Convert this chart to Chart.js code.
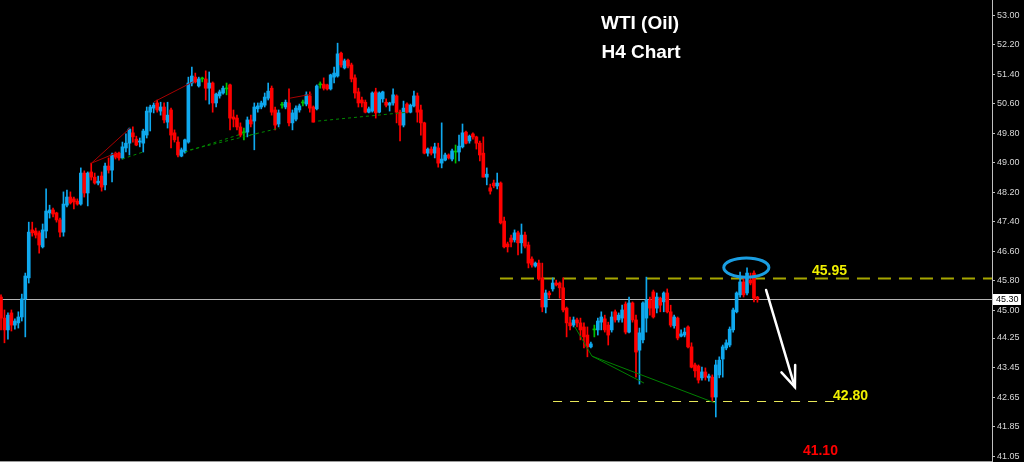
<!DOCTYPE html>
<html><head><meta charset="utf-8">
<script src="https://cdn.jsdelivr.net/npm/chart.js@4.4.1/dist/chart.umd.min.js"></script>
<style>html,body{margin:0;padding:0;background:#000;overflow:hidden}#wrap{width:1024px;height:462px}</style>
</head><body><div id="wrap"><canvas id="c" width="1024" height="462"></canvas></div>
<script>
// ---- data (WTI H4 candles) ----
const open = [45.36,44.79,44.47,44.93,44.60,44.66,44.82,45.31,45.88,47.18,47.15,47.10,46.72,47.15,47.64,47.72,47.64,47.45,47.12,47.85,48.07,48.02,47.96,47.88,48.72,48.18,48.75,48.61,48.45,48.64,48.40,48.91,48.80,49.26,49.26,49.13,49.40,49.53,49.81,49.64,49.56,49.53,49.75,50.37,50.48,50.62,50.40,50.51,50.10,50.43,49.81,49.56,49.18,49.29,49.56,51.16,51.32,51.08,51.27,51.27,51.02,51.16,50.62,50.81,50.89,51.00,51.11,50.24,50.21,49.97,49.81,49.83,50.16,50.13,50.46,50.51,50.56,50.75,51.02,50.43,50.05,50.56,50.51,50.62,50.08,50.18,50.43,50.62,50.59,50.81,50.51,50.46,51.11,51.13,51.11,51.00,51.32,51.35,51.97,51.57,51.78,51.65,51.30,50.92,50.70,50.64,50.37,50.40,50.92,50.37,50.73,50.64,50.56,50.62,50.81,50.37,50.02,50.59,50.37,50.54,50.81,50.43,50.08,49.26,49.37,49.26,49.40,48.99,49.07,49.21,49.10,49.29,49.29,49.43,49.83,49.59,49.78,49.70,49.53,49.26,48.61,48.32,48.45,48.37,48.45,47.42,46.80,46.96,46.91,47.10,46.83,47.04,46.77,46.39,46.20,46.28,45.88,45.09,45.47,45.58,45.74,45.74,45.61,45.06,44.66,44.60,44.74,44.66,44.55,44.33,44.01,44.47,44.47,44.68,44.77,44.60,44.47,44.96,44.74,44.79,45.17,44.41,45.20,44.74,43.92,44.20,44.79,45.28,45.50,45.06,45.33,45.23,45.47,44.96,44.58,44.79,44.30,44.33,44.55,44.01,43.52,43.49,43.17,43.33,43.17,43.19,42.65,43.25,43.68,43.98,44.06,44.47,44.96,45.42,45.77,45.47,45.82,46.01,45.36];
const high = [45.42,45.01,44.93,45.01,44.77,44.96,45.44,46.01,47.39,47.39,47.23,47.15,47.34,48.29,47.85,47.77,47.66,47.50,48.21,48.26,48.21,48.07,48.02,48.86,48.78,48.75,48.99,48.72,48.64,48.75,48.99,49.13,49.26,49.29,49.29,49.56,49.78,49.94,49.97,49.72,49.67,49.91,50.51,50.56,50.62,50.70,50.64,50.62,50.64,50.48,49.89,49.70,49.40,49.64,51.32,51.59,51.43,51.32,51.32,51.49,51.46,51.19,50.89,50.97,51.08,51.16,51.13,50.43,50.29,50.08,49.94,50.24,50.29,50.62,50.62,50.67,50.89,51.16,51.08,50.51,50.43,50.64,50.70,51.00,50.43,50.54,50.59,50.70,50.92,50.92,50.54,51.11,51.19,51.30,51.13,51.40,51.59,52.24,52.00,51.81,51.81,51.70,51.38,51.02,50.78,50.70,50.51,50.92,51.02,50.92,50.94,50.73,50.64,51.00,50.84,50.43,50.67,50.62,50.59,50.94,50.89,50.56,50.10,49.40,49.43,49.53,49.53,50.08,49.26,49.24,49.37,49.48,49.75,50.05,49.86,49.75,49.81,49.72,49.59,49.70,48.86,48.42,48.53,48.72,48.48,47.53,46.85,47.04,47.18,47.15,47.34,47.12,46.85,46.45,46.31,46.36,46.28,45.55,45.52,45.88,45.82,45.77,45.88,45.09,44.82,44.82,44.79,44.79,44.66,44.55,44.14,44.60,44.79,44.96,44.87,44.68,44.96,45.01,44.93,45.14,45.23,45.36,45.23,44.87,44.52,45.23,45.90,45.36,45.55,45.47,45.36,45.50,45.58,45.14,44.87,44.82,44.47,44.52,44.58,44.12,43.57,43.52,43.46,43.44,43.27,43.25,43.65,43.74,44.06,44.20,44.55,45.06,45.50,46.04,45.88,46.15,46.01,46.07,45.38];
const low = [44.47,44.12,44.22,44.44,44.49,44.52,44.71,44.28,45.74,47.01,46.96,46.55,46.69,46.96,47.50,47.53,47.39,46.99,47.01,47.80,47.88,47.75,47.85,47.85,48.07,47.83,48.53,48.42,48.40,48.23,48.26,48.72,48.48,49.10,49.07,49.10,49.29,49.21,49.56,49.46,49.43,49.29,49.67,49.86,50.35,50.37,50.29,50.08,49.94,49.40,49.56,49.16,49.16,49.26,49.53,51.08,51.16,51.05,51.19,50.70,50.59,50.37,50.51,50.75,50.86,50.84,49.89,49.97,49.89,49.70,49.62,49.70,49.97,49.35,50.37,50.46,50.51,50.70,50.29,49.89,49.97,50.48,50.46,50.00,49.89,50.13,50.37,50.54,50.54,50.37,50.10,50.43,51.02,50.97,50.97,50.97,51.16,51.32,51.59,51.54,51.57,51.19,50.75,50.51,50.51,50.35,50.35,50.37,50.21,50.35,50.64,50.51,50.40,50.56,50.08,49.59,49.97,50.35,50.35,50.51,50.10,49.75,49.24,49.18,49.21,49.13,48.88,48.86,49.05,49.10,49.05,48.99,49.05,49.40,49.51,49.53,49.64,49.37,49.05,48.61,48.40,48.15,48.32,48.29,47.34,46.69,46.58,46.72,46.85,46.50,46.55,46.69,46.15,46.17,46.17,45.82,44.96,44.93,45.33,45.52,45.66,45.33,44.96,44.28,44.47,44.55,44.55,44.20,43.98,43.74,43.98,44.28,44.33,44.47,44.41,44.06,44.41,44.68,44.68,44.68,44.36,44.39,44.68,43.19,43.00,44.12,44.41,44.87,44.79,44.93,44.96,44.96,44.93,44.55,44.52,44.20,44.28,44.28,43.98,43.44,43.19,43.03,43.11,43.11,43.08,42.52,42.11,43.17,43.19,43.93,44.01,44.41,44.93,45.36,45.36,45.42,45.69,45.23,45.22];
const close = [44.79,44.47,44.87,44.60,44.71,44.82,45.31,45.93,47.12,47.10,47.04,46.77,47.18,47.69,47.72,47.61,47.45,47.12,47.88,48.07,47.91,47.94,47.88,48.72,48.18,48.72,48.61,48.45,48.50,48.34,48.91,48.80,49.21,49.15,49.13,49.43,49.53,49.91,49.70,49.48,49.59,49.86,50.40,50.51,50.56,50.43,50.51,50.16,50.29,49.75,49.62,49.21,49.35,49.62,51.16,51.35,51.19,51.27,51.27,51.02,51.16,50.62,50.86,50.92,51.02,51.00,50.21,50.18,49.97,49.75,49.81,50.16,50.05,50.51,50.54,50.62,50.78,50.94,50.37,50.02,50.35,50.56,50.64,50.08,50.35,50.48,50.54,50.62,50.84,50.48,50.10,51.08,51.11,51.02,51.00,51.38,51.43,51.95,51.65,51.76,51.62,51.27,50.89,50.62,50.62,50.37,50.46,50.89,50.35,50.89,50.92,50.56,50.62,50.84,50.37,50.02,50.48,50.37,50.56,50.81,50.37,50.08,49.26,49.37,49.26,49.43,48.99,49.10,49.21,49.13,49.32,49.29,49.45,49.81,49.53,49.72,49.70,49.53,49.21,48.61,48.69,48.23,48.37,48.45,47.37,46.72,46.72,46.85,47.10,46.83,47.04,46.74,46.28,46.23,46.28,45.85,45.09,45.47,45.42,45.74,45.69,45.61,45.01,44.66,44.58,44.74,44.66,44.47,44.28,44.01,44.09,44.47,44.71,44.82,44.47,44.33,44.82,44.74,44.87,45.01,44.41,45.20,44.74,43.87,44.39,45.20,45.28,45.06,44.82,45.36,45.14,45.47,44.96,44.60,44.82,44.25,44.36,44.41,44.01,43.46,43.36,43.11,43.33,43.19,43.22,42.65,43.52,43.65,44.01,44.12,44.49,45.01,45.47,45.77,45.42,46.01,45.74,45.33,45.30];

const priceTicks = [53.00,52.20,51.40,50.60,49.80,49.00,48.20,47.40,46.60,45.80,45.00,44.25,43.45,42.65,41.85,41.05];
const lastPrice = 45.30;
const titleLines = ['WTI (Oil)', 'H4 Chart'];

// drawn levels
const resistance = {price: 45.86, label: '45.95', from: 143.8, labelAt: [233.7, 46.07]};
const target1 = {price: 42.54, label: '42.80', from: 159.1, to: 240.3, labelAt: [239.8, 42.68]};
const target2 = {label: '41.10', labelAt: [231.1, 41.19]};
const ellipseAt = {x: 214.8, y: 46.16, rx: 6.5, ry: 0.26};
const arrowFrom = [220.5, 45.55], arrowTo = [228.8, 42.92];

// trend lines [x index, price]
const redLines = [
  [[26.1,48.99],[37.2,49.94]],
  [[26.1,48.99],[33.1,49.26]],
  [[44.1,50.65],[55.3,51.19]],
  [[83.3,50.75],[89.6,50.86]]
];
const greenDashed = [
  [[34.9,49.10],[40.9,49.29]],
  [[53.0,49.29],[70.3,49.81]],
  [[54.5,49.35],[74.6,49.81]],
  [[71.8,49.75],[80.4,49.94]],
  [[91.4,50.13],[117.3,50.37]]
];
const greenSolid = [
  [[165.4,44.55],[170.3,43.76]],
  [[170.3,43.76],[185.3,43.03]],
  [[170.3,43.76],[205.8,42.49]]
];

// ---- styles ----
const UP = '#0fa8ee', DOWN = '#ff0000', DOJI = '#00c400';
const colorOf = i => Math.abs(close[i]-open[i]) < 0.005 ? DOJI : (close[i] > open[i] ? UP : DOWN);
const candleColors = close.map((c,i) => colorOf(i));

const bodies = close.map((c,i) => ({x:i, y:[Math.min(open[i],c), Math.max(open[i],c)]}));
const wicks = close.map((c,i) => ({x:i, y:[low[i], high[i]]}));

const lineSets = [];
redLines.forEach(l => lineSets.push({type:'line', data:l.map(p=>({x:p[0],y:p[1]})), borderColor:'#a80000', borderWidth:1, pointRadius:0, order:-1}));
greenDashed.forEach(l => lineSets.push({type:'line', data:l.map(p=>({x:p[0],y:p[1]})), borderColor:'#008a00', borderWidth:1, borderDash:[3,3], pointRadius:0, order:-1}));
greenSolid.forEach(l => lineSets.push({type:'line', data:l.map(p=>({x:p[0],y:p[1]})), borderColor:'#008000', borderWidth:1, pointRadius:0, order:-1}));

const overlay = {
  id: 'overlay',
  beforeDraw(chart) {
    const ctx = chart.ctx;
    ctx.save(); ctx.fillStyle = '#000'; ctx.fillRect(0,0,chart.width,chart.height); ctx.restore();
  },
  beforeDatasetsDraw(chart) {
    const {ctx, chartArea:a, scales:{x,y}} = chart;
    ctx.save();
    const py = Math.round(y.getPixelForValue(lastPrice)) + 0.5;
    ctx.strokeStyle = '#b4b4b4'; ctx.lineWidth = 1;
    ctx.beginPath(); ctx.moveTo(a.left, py); ctx.lineTo(a.right, py); ctx.stroke();
    const ry = y.getPixelForValue(resistance.price);
    ctx.strokeStyle = '#a6a600'; ctx.lineWidth = 2; ctx.setLineDash([13,8]);
    ctx.beginPath(); ctx.moveTo(x.getPixelForValue(resistance.from), ry); ctx.lineTo(a.right, ry); ctx.stroke();
    const ty = Math.round(y.getPixelForValue(target1.price)) + 0.5;
    ctx.strokeStyle = '#e8e85a'; ctx.lineWidth = 1; ctx.setLineDash([9,8]);
    ctx.beginPath(); ctx.moveTo(x.getPixelForValue(target1.from), ty); ctx.lineTo(x.getPixelForValue(target1.to), ty); ctx.stroke();
    ctx.setLineDash([]);
    ctx.strokeStyle = '#9a9a9a'; ctx.beginPath(); ctx.moveTo(0, 461.5); ctx.lineTo(a.right, 461.5); ctx.stroke();
    ctx.restore();
  },
  afterDraw(chart) {
    const {ctx, chartArea:a, scales:{x,y}} = chart;
    ctx.save();
    ctx.fillStyle = '#ffffff'; ctx.font = 'bold 19px "Liberation Sans", Arial, sans-serif';
    ctx.textAlign = 'center'; ctx.textBaseline = 'middle';
    ctx.fillText(titleLines[0], 640, 24);
    ctx.fillText(titleLines[1], 641, 53);
    ctx.font = 'bold 14px "Liberation Sans", Arial, sans-serif'; ctx.textAlign = 'left';
    ctx.fillStyle = '#f0f000';
    ctx.fillText(resistance.label, x.getPixelForValue(resistance.labelAt[0]), y.getPixelForValue(resistance.labelAt[1]));
    ctx.fillText(target1.label, x.getPixelForValue(target1.labelAt[0]), y.getPixelForValue(target1.labelAt[1]));
    ctx.fillStyle = '#ff0000';
    ctx.fillText(target2.label, x.getPixelForValue(target2.labelAt[0]), y.getPixelForValue(target2.labelAt[1]));
    const cx = x.getPixelForValue(ellipseAt.x), cy = y.getPixelForValue(ellipseAt.y);
    const erx = x.getPixelForValue(ellipseAt.x + ellipseAt.rx) - cx;
    const ery = y.getPixelForValue(ellipseAt.y - ellipseAt.ry) - cy;
    ctx.strokeStyle = '#1a9ee2'; ctx.lineWidth = 3;
    ctx.beginPath(); ctx.ellipse(cx, cy, erx, ery, 0, 0, Math.PI*2); ctx.stroke();
    const x0 = x.getPixelForValue(arrowFrom[0]), y0 = y.getPixelForValue(arrowFrom[1]);
    const x1 = x.getPixelForValue(arrowTo[0]), y1 = y.getPixelForValue(arrowTo[1]);
    ctx.strokeStyle = '#ffffff'; ctx.lineWidth = 2.5; ctx.lineCap = 'round';
    ctx.beginPath(); ctx.moveTo(x0, y0); ctx.lineTo(x1, y1); ctx.stroke();
    const ang = Math.atan2(y0 - y1, x0 - x1);
    ctx.beginPath();
    ctx.moveTo(x1 + 20*Math.cos(ang - 0.45), y1 + 20*Math.sin(ang - 0.45));
    ctx.lineTo(x1, y1);
    ctx.lineTo(x1 + 22*Math.cos(ang + 0.3), y1 + 22*Math.sin(ang + 0.3));
    ctx.stroke();
    const py = y.getPixelForValue(lastPrice);
    ctx.fillStyle = '#ffffff'; ctx.fillRect(a.right + 1, Math.round(py) - 5, 28, 11);
    ctx.fillStyle = '#000000'; ctx.font = '9px "Liberation Sans", Arial, sans-serif';
    ctx.textAlign = 'left'; ctx.textBaseline = 'middle';
    ctx.fillText(lastPrice.toFixed(2), a.right + 4, Math.round(py) + 0.5);
    ctx.restore();
  }
};

new Chart(document.getElementById('c'), {
  type: 'bar',
  data: {
    datasets: [
      {data: bodies, backgroundColor: candleColors, barThickness: 3, grouped: false, minBarLength: 1, order: 0, borderWidth: 0},
      {data: wicks, backgroundColor: candleColors, barThickness: 1, grouped: false, order: 1, borderWidth: 0},
      ...lineSets
    ]
  },
  options: {
    responsive: false, animation: false, devicePixelRatio: 1,
    layout: {padding: 0},
    plugins: {legend: {display: false}, tooltip: {enabled: false}, title: {display: false}},
    scales: {
      x: {type: 'linear', display: false, min: -0.29, max: 285.6, offset: false},
      y: {
        position: 'right', min: 40.89, max: 53.41,
        afterBuildTicks: s => { s.ticks = priceTicks.map(v => ({value: v})); },
        afterFit: s => { s.width = 32; s.paddingTop = 0; s.paddingBottom = 0; },
        ticks: {color: '#d8d8d8', font: {family: '"Liberation Sans", Arial, sans-serif', size: 9}, padding: 2, autoSkip: false, callback: v => Number(v).toFixed(2)},
        grid: {drawOnChartArea: false, drawTicks: true, tickLength: 3, color: '#c0c0c0'},
        border: {display: true, color: '#c0c0c0', width: 1}
      }
    }
  },
  plugins: [overlay]
});
</script>
</body></html>
